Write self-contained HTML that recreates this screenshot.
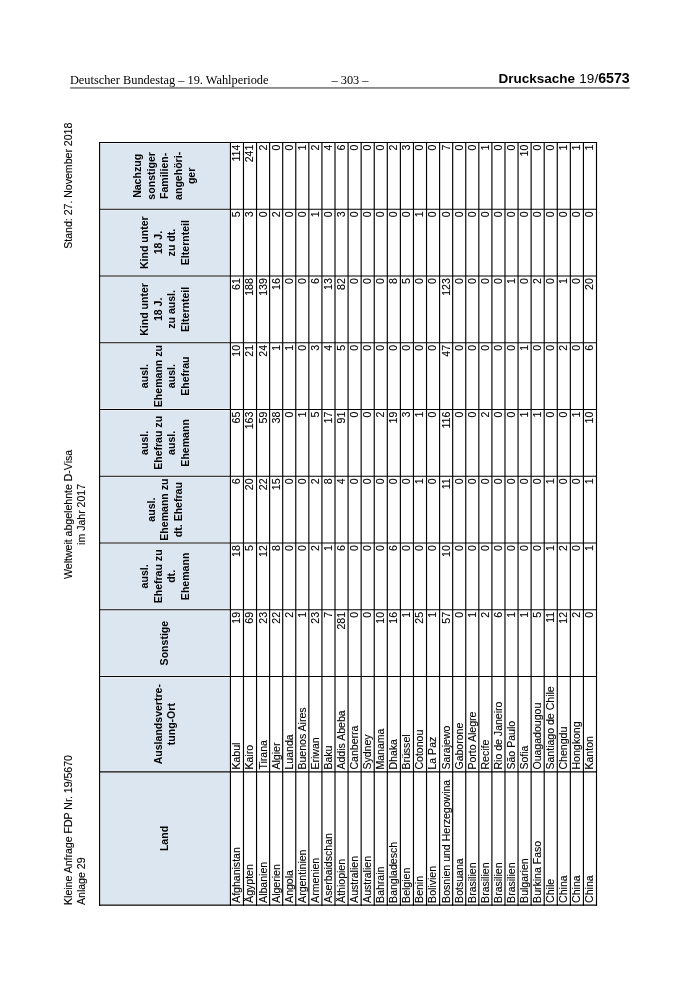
<!DOCTYPE html>
<html lang="de">
<head>
<meta charset="utf-8">
<title>Drucksache 19/6573</title>
<style>
html,body{margin:0;padding:0;background:#fff;}
body{width:700px;height:990px;position:relative;overflow:hidden;will-change:transform;font-family:"Liberation Sans",sans-serif;color:#000;}
.hd{position:absolute;white-space:nowrap;font-family:"Liberation Serif",serif;font-size:12.35px;line-height:14px;color:#000;}
.hdr{position:absolute;white-space:nowrap;font-family:"Liberation Sans",sans-serif;font-size:13.5px;line-height:16px;color:#000;}
.hdr b{font-weight:bold;margin-right:0.6px;}
.hdr .n{font-weight:bold;font-size:14.2px;}
.rule{position:absolute;left:0;top:0;}
.rot{position:absolute;left:0;top:0;width:990px;height:700px;transform-origin:0 0;transform:translate(0,990px) rotate(-90deg);}
.rot svg{position:absolute;left:0;top:0;}
.t{position:absolute;white-space:nowrap;-webkit-text-stroke:0.12px #000;font-size:10.55px;line-height:13.1px;height:13.1px;}
.l{text-align:left;}
.r{text-align:right;}
.c{text-align:center;}
.h{position:absolute;font-weight:bold;text-align:center;font-size:10.55px;line-height:13.45px;white-space:nowrap;}
</style>
</head>
<body>
<div class="hd" style="left:69.9px;top:72.7px;">Deutscher Bundestag – 19. Wahlperiode</div>
<div class="hd" style="left:300px;width:100px;text-align:center;top:72.7px;">– 303 –</div>
<div class="hdr" style="right:70.3px;top:70.2px;"><b>Drucksache</b> 19/<span class="n">6573</span></div>
<svg class="rule" width="700" height="100" viewBox="0 0 700 100"><rect x="70.1" y="87.3" width="559.6" height="1.3" fill="#5a5a5a"/></svg>
<div class="rot">

<svg width="990" height="700" viewBox="0 0 990 700">
<rect x="85.80" y="100.55" width="131.45" height="128.90" fill="#dce6f1"/>
<rect x="219.15" y="100.55" width="93.40" height="128.90" fill="#dce6f1"/>
<rect x="314.45" y="100.55" width="64.85" height="128.90" fill="#dce6f1"/>
<rect x="381.20" y="100.55" width="64.85" height="128.90" fill="#dce6f1"/>
<rect x="447.95" y="100.55" width="64.85" height="128.90" fill="#dce6f1"/>
<rect x="514.70" y="100.55" width="64.85" height="128.90" fill="#dce6f1"/>
<rect x="581.45" y="100.55" width="64.85" height="128.90" fill="#dce6f1"/>
<rect x="648.20" y="100.55" width="64.85" height="128.90" fill="#dce6f1"/>
<rect x="714.95" y="100.55" width="64.85" height="128.90" fill="#dce6f1"/>
<rect x="781.70" y="100.55" width="64.85" height="128.90" fill="#dce6f1"/>
<g stroke="#000" stroke-width="1.15" fill="none">
<line x1="84.85" y1="99.10" x2="84.85" y2="597.00"/>
<line x1="218.20" y1="99.10" x2="218.20" y2="597.00"/>
<line x1="313.50" y1="99.10" x2="313.50" y2="597.00"/>
<line x1="380.25" y1="99.10" x2="380.25" y2="597.00"/>
<line x1="447.00" y1="99.10" x2="447.00" y2="597.00"/>
<line x1="513.75" y1="99.10" x2="513.75" y2="597.00"/>
<line x1="580.50" y1="99.10" x2="580.50" y2="597.00"/>
<line x1="647.25" y1="99.10" x2="647.25" y2="597.00"/>
<line x1="714.00" y1="99.10" x2="714.00" y2="597.00"/>
<line x1="780.75" y1="99.10" x2="780.75" y2="597.00"/>
<line x1="847.50" y1="99.10" x2="847.50" y2="597.00"/>
<line x1="84.35" y1="99.60" x2="848.00" y2="99.60"/>
<line x1="84.35" y1="230.40" x2="848.00" y2="230.40"/>
<line x1="84.35" y1="243.47" x2="848.00" y2="243.47"/>
<line x1="84.35" y1="256.55" x2="848.00" y2="256.55"/>
<line x1="84.35" y1="269.62" x2="848.00" y2="269.62"/>
<line x1="84.35" y1="282.70" x2="848.00" y2="282.70"/>
<line x1="84.35" y1="295.77" x2="848.00" y2="295.77"/>
<line x1="84.35" y1="308.85" x2="848.00" y2="308.85"/>
<line x1="84.35" y1="321.93" x2="848.00" y2="321.93"/>
<line x1="84.35" y1="335.00" x2="848.00" y2="335.00"/>
<line x1="84.35" y1="348.08" x2="848.00" y2="348.08"/>
<line x1="84.35" y1="361.15" x2="848.00" y2="361.15"/>
<line x1="84.35" y1="374.23" x2="848.00" y2="374.23"/>
<line x1="84.35" y1="387.30" x2="848.00" y2="387.30"/>
<line x1="84.35" y1="400.38" x2="848.00" y2="400.38"/>
<line x1="84.35" y1="413.45" x2="848.00" y2="413.45"/>
<line x1="84.35" y1="426.53" x2="848.00" y2="426.53"/>
<line x1="84.35" y1="439.60" x2="848.00" y2="439.60"/>
<line x1="84.35" y1="452.68" x2="848.00" y2="452.68"/>
<line x1="84.35" y1="465.75" x2="848.00" y2="465.75"/>
<line x1="84.35" y1="478.83" x2="848.00" y2="478.83"/>
<line x1="84.35" y1="491.90" x2="848.00" y2="491.90"/>
<line x1="84.35" y1="504.98" x2="848.00" y2="504.98"/>
<line x1="84.35" y1="518.05" x2="848.00" y2="518.05"/>
<line x1="84.35" y1="531.12" x2="848.00" y2="531.12"/>
<line x1="84.35" y1="544.20" x2="848.00" y2="544.20"/>
<line x1="84.35" y1="557.27" x2="848.00" y2="557.27"/>
<line x1="84.35" y1="570.35" x2="848.00" y2="570.35"/>
<line x1="84.35" y1="583.43" x2="848.00" y2="583.43"/>
<line x1="84.35" y1="596.50" x2="848.00" y2="596.50"/>
</g></svg>
<div class="t l" style="font-size:10.55px;left:85.00px;width:782.30px;top:62.39px;">Kleine Anfrage FDP Nr. 19/5670</div>
<div class="t l" style="font-size:10.55px;left:85.00px;width:782.30px;top:74.54px;">Anlage 29</div>
<div class="t c" style="font-size:10.55px;left:85.00px;width:781.20px;top:62.39px;">Weltweit abgelehnte D-Visa</div>
<div class="t c" style="font-size:10.55px;left:85.00px;width:781.20px;top:74.54px;">im Jahr 2017</div>
<div class="t r" style="font-size:10.55px;left:85.00px;width:782.30px;top:62.39px;">Stand: 27. November 2018</div>
<div class="h" style="left:84.85px;width:133.35px;top:158.38px;">Land</div>
<div class="h" style="left:218.20px;width:95.30px;top:151.65px;">Auslandsvertre-<br>tung-Ort</div>
<div class="h" style="left:313.50px;width:66.75px;top:158.38px;">Sonstige</div>
<div class="h" style="left:380.25px;width:66.75px;top:138.20px;">ausl.<br>Ehefrau zu<br>dt.<br>Ehemann</div>
<div class="h" style="left:447.00px;width:66.75px;top:144.93px;">ausl.<br>Ehemann zu<br>dt. Ehefrau</div>
<div class="h" style="left:513.75px;width:66.75px;top:138.20px;">ausl.<br>Ehefrau zu<br>ausl.<br>Ehemann</div>
<div class="h" style="left:580.50px;width:66.75px;top:138.20px;">ausl.<br>Ehemann zu<br>ausl.<br>Ehefrau</div>
<div class="h" style="left:647.25px;width:66.75px;top:138.20px;">Kind unter<br>18 J.<br>zu ausl.<br>Elternteil</div>
<div class="h" style="left:714.00px;width:66.75px;top:138.20px;">Kind unter<br>18 J.<br>zu dt.<br>Elternteil</div>
<div class="h" style="left:780.75px;width:66.75px;top:131.47px;">Nachzug<br>sonstiger<br>Familien-<br>angehöri-<br>ger</div>
<div class="t l" style="left:87.10px;top:230.37px;">Afghanistan</div>
<div class="t l" style="left:220.45px;top:230.37px;">Kabul</div>
<div class="t r" style="left:313.50px;width:64.60px;top:230.37px;">19</div>
<div class="t r" style="left:380.25px;width:64.60px;top:230.37px;">18</div>
<div class="t r" style="left:447.00px;width:64.60px;top:230.37px;">6</div>
<div class="t r" style="left:513.75px;width:64.60px;top:230.37px;">65</div>
<div class="t r" style="left:580.50px;width:64.60px;top:230.37px;">10</div>
<div class="t r" style="left:647.25px;width:64.60px;top:230.37px;">61</div>
<div class="t r" style="left:714.00px;width:64.60px;top:230.37px;">5</div>
<div class="t r" style="left:780.75px;width:64.60px;top:230.37px;">114</div>
<div class="t l" style="left:87.10px;top:243.44px;">Ägypten</div>
<div class="t l" style="left:220.45px;top:243.44px;">Kairo</div>
<div class="t r" style="left:313.50px;width:64.60px;top:243.44px;">69</div>
<div class="t r" style="left:380.25px;width:64.60px;top:243.44px;">5</div>
<div class="t r" style="left:447.00px;width:64.60px;top:243.44px;">20</div>
<div class="t r" style="left:513.75px;width:64.60px;top:243.44px;">163</div>
<div class="t r" style="left:580.50px;width:64.60px;top:243.44px;">21</div>
<div class="t r" style="left:647.25px;width:64.60px;top:243.44px;">188</div>
<div class="t r" style="left:714.00px;width:64.60px;top:243.44px;">3</div>
<div class="t r" style="left:780.75px;width:64.60px;top:243.44px;">241</div>
<div class="t l" style="left:87.10px;top:256.52px;">Albanien</div>
<div class="t l" style="left:220.45px;top:256.52px;">Tirana</div>
<div class="t r" style="left:313.50px;width:64.60px;top:256.52px;">23</div>
<div class="t r" style="left:380.25px;width:64.60px;top:256.52px;">12</div>
<div class="t r" style="left:447.00px;width:64.60px;top:256.52px;">22</div>
<div class="t r" style="left:513.75px;width:64.60px;top:256.52px;">59</div>
<div class="t r" style="left:580.50px;width:64.60px;top:256.52px;">24</div>
<div class="t r" style="left:647.25px;width:64.60px;top:256.52px;">139</div>
<div class="t r" style="left:714.00px;width:64.60px;top:256.52px;">0</div>
<div class="t r" style="left:780.75px;width:64.60px;top:256.52px;">2</div>
<div class="t l" style="left:87.10px;top:269.59px;">Algerien</div>
<div class="t l" style="left:220.45px;top:269.59px;">Algier</div>
<div class="t r" style="left:313.50px;width:64.60px;top:269.59px;">22</div>
<div class="t r" style="left:380.25px;width:64.60px;top:269.59px;">8</div>
<div class="t r" style="left:447.00px;width:64.60px;top:269.59px;">15</div>
<div class="t r" style="left:513.75px;width:64.60px;top:269.59px;">38</div>
<div class="t r" style="left:580.50px;width:64.60px;top:269.59px;">1</div>
<div class="t r" style="left:647.25px;width:64.60px;top:269.59px;">16</div>
<div class="t r" style="left:714.00px;width:64.60px;top:269.59px;">2</div>
<div class="t r" style="left:780.75px;width:64.60px;top:269.59px;">0</div>
<div class="t l" style="left:87.10px;top:282.67px;">Angola</div>
<div class="t l" style="left:220.45px;top:282.67px;">Luanda</div>
<div class="t r" style="left:313.50px;width:64.60px;top:282.67px;">2</div>
<div class="t r" style="left:380.25px;width:64.60px;top:282.67px;">0</div>
<div class="t r" style="left:447.00px;width:64.60px;top:282.67px;">0</div>
<div class="t r" style="left:513.75px;width:64.60px;top:282.67px;">0</div>
<div class="t r" style="left:580.50px;width:64.60px;top:282.67px;">1</div>
<div class="t r" style="left:647.25px;width:64.60px;top:282.67px;">0</div>
<div class="t r" style="left:714.00px;width:64.60px;top:282.67px;">0</div>
<div class="t r" style="left:780.75px;width:64.60px;top:282.67px;">0</div>
<div class="t l" style="left:87.10px;top:295.74px;">Argentinien</div>
<div class="t l" style="left:220.45px;top:295.74px;">Buenos Aires</div>
<div class="t r" style="left:313.50px;width:64.60px;top:295.74px;">1</div>
<div class="t r" style="left:380.25px;width:64.60px;top:295.74px;">0</div>
<div class="t r" style="left:447.00px;width:64.60px;top:295.74px;">0</div>
<div class="t r" style="left:513.75px;width:64.60px;top:295.74px;">1</div>
<div class="t r" style="left:580.50px;width:64.60px;top:295.74px;">0</div>
<div class="t r" style="left:647.25px;width:64.60px;top:295.74px;">0</div>
<div class="t r" style="left:714.00px;width:64.60px;top:295.74px;">0</div>
<div class="t r" style="left:780.75px;width:64.60px;top:295.74px;">1</div>
<div class="t l" style="left:87.10px;top:308.82px;">Armenien</div>
<div class="t l" style="left:220.45px;top:308.82px;">Eriwan</div>
<div class="t r" style="left:313.50px;width:64.60px;top:308.82px;">23</div>
<div class="t r" style="left:380.25px;width:64.60px;top:308.82px;">2</div>
<div class="t r" style="left:447.00px;width:64.60px;top:308.82px;">2</div>
<div class="t r" style="left:513.75px;width:64.60px;top:308.82px;">5</div>
<div class="t r" style="left:580.50px;width:64.60px;top:308.82px;">3</div>
<div class="t r" style="left:647.25px;width:64.60px;top:308.82px;">6</div>
<div class="t r" style="left:714.00px;width:64.60px;top:308.82px;">1</div>
<div class="t r" style="left:780.75px;width:64.60px;top:308.82px;">2</div>
<div class="t l" style="left:87.10px;top:321.89px;">Aserbaidschan</div>
<div class="t l" style="left:220.45px;top:321.89px;">Baku</div>
<div class="t r" style="left:313.50px;width:64.60px;top:321.89px;">7</div>
<div class="t r" style="left:380.25px;width:64.60px;top:321.89px;">1</div>
<div class="t r" style="left:447.00px;width:64.60px;top:321.89px;">8</div>
<div class="t r" style="left:513.75px;width:64.60px;top:321.89px;">17</div>
<div class="t r" style="left:580.50px;width:64.60px;top:321.89px;">4</div>
<div class="t r" style="left:647.25px;width:64.60px;top:321.89px;">13</div>
<div class="t r" style="left:714.00px;width:64.60px;top:321.89px;">0</div>
<div class="t r" style="left:780.75px;width:64.60px;top:321.89px;">4</div>
<div class="t l" style="left:87.10px;top:334.97px;">Äthiopien</div>
<div class="t l" style="left:220.45px;top:334.97px;">Addis Abeba</div>
<div class="t r" style="left:313.50px;width:64.60px;top:334.97px;">281</div>
<div class="t r" style="left:380.25px;width:64.60px;top:334.97px;">6</div>
<div class="t r" style="left:447.00px;width:64.60px;top:334.97px;">4</div>
<div class="t r" style="left:513.75px;width:64.60px;top:334.97px;">91</div>
<div class="t r" style="left:580.50px;width:64.60px;top:334.97px;">5</div>
<div class="t r" style="left:647.25px;width:64.60px;top:334.97px;">82</div>
<div class="t r" style="left:714.00px;width:64.60px;top:334.97px;">3</div>
<div class="t r" style="left:780.75px;width:64.60px;top:334.97px;">6</div>
<div class="t l" style="left:87.10px;top:348.04px;">Australien</div>
<div class="t l" style="left:220.45px;top:348.04px;">Canberra</div>
<div class="t r" style="left:313.50px;width:64.60px;top:348.04px;">0</div>
<div class="t r" style="left:380.25px;width:64.60px;top:348.04px;">0</div>
<div class="t r" style="left:447.00px;width:64.60px;top:348.04px;">0</div>
<div class="t r" style="left:513.75px;width:64.60px;top:348.04px;">0</div>
<div class="t r" style="left:580.50px;width:64.60px;top:348.04px;">0</div>
<div class="t r" style="left:647.25px;width:64.60px;top:348.04px;">0</div>
<div class="t r" style="left:714.00px;width:64.60px;top:348.04px;">0</div>
<div class="t r" style="left:780.75px;width:64.60px;top:348.04px;">0</div>
<div class="t l" style="left:87.10px;top:361.12px;">Australien</div>
<div class="t l" style="left:220.45px;top:361.12px;">Sydney</div>
<div class="t r" style="left:313.50px;width:64.60px;top:361.12px;">0</div>
<div class="t r" style="left:380.25px;width:64.60px;top:361.12px;">0</div>
<div class="t r" style="left:447.00px;width:64.60px;top:361.12px;">0</div>
<div class="t r" style="left:513.75px;width:64.60px;top:361.12px;">0</div>
<div class="t r" style="left:580.50px;width:64.60px;top:361.12px;">0</div>
<div class="t r" style="left:647.25px;width:64.60px;top:361.12px;">0</div>
<div class="t r" style="left:714.00px;width:64.60px;top:361.12px;">0</div>
<div class="t r" style="left:780.75px;width:64.60px;top:361.12px;">0</div>
<div class="t l" style="left:87.10px;top:374.19px;">Bahrain</div>
<div class="t l" style="left:220.45px;top:374.19px;">Manama</div>
<div class="t r" style="left:313.50px;width:64.60px;top:374.19px;">10</div>
<div class="t r" style="left:380.25px;width:64.60px;top:374.19px;">0</div>
<div class="t r" style="left:447.00px;width:64.60px;top:374.19px;">0</div>
<div class="t r" style="left:513.75px;width:64.60px;top:374.19px;">2</div>
<div class="t r" style="left:580.50px;width:64.60px;top:374.19px;">0</div>
<div class="t r" style="left:647.25px;width:64.60px;top:374.19px;">0</div>
<div class="t r" style="left:714.00px;width:64.60px;top:374.19px;">0</div>
<div class="t r" style="left:780.75px;width:64.60px;top:374.19px;">0</div>
<div class="t l" style="left:87.10px;top:387.27px;">Bangladesch</div>
<div class="t l" style="left:220.45px;top:387.27px;">Dhaka</div>
<div class="t r" style="left:313.50px;width:64.60px;top:387.27px;">16</div>
<div class="t r" style="left:380.25px;width:64.60px;top:387.27px;">6</div>
<div class="t r" style="left:447.00px;width:64.60px;top:387.27px;">0</div>
<div class="t r" style="left:513.75px;width:64.60px;top:387.27px;">19</div>
<div class="t r" style="left:580.50px;width:64.60px;top:387.27px;">0</div>
<div class="t r" style="left:647.25px;width:64.60px;top:387.27px;">8</div>
<div class="t r" style="left:714.00px;width:64.60px;top:387.27px;">0</div>
<div class="t r" style="left:780.75px;width:64.60px;top:387.27px;">2</div>
<div class="t l" style="left:87.10px;top:400.34px;">Belgien</div>
<div class="t l" style="left:220.45px;top:400.34px;">Brüssel</div>
<div class="t r" style="left:313.50px;width:64.60px;top:400.34px;">1</div>
<div class="t r" style="left:380.25px;width:64.60px;top:400.34px;">0</div>
<div class="t r" style="left:447.00px;width:64.60px;top:400.34px;">0</div>
<div class="t r" style="left:513.75px;width:64.60px;top:400.34px;">3</div>
<div class="t r" style="left:580.50px;width:64.60px;top:400.34px;">0</div>
<div class="t r" style="left:647.25px;width:64.60px;top:400.34px;">5</div>
<div class="t r" style="left:714.00px;width:64.60px;top:400.34px;">0</div>
<div class="t r" style="left:780.75px;width:64.60px;top:400.34px;">3</div>
<div class="t l" style="left:87.10px;top:413.42px;">Benin</div>
<div class="t l" style="left:220.45px;top:413.42px;">Cotonou</div>
<div class="t r" style="left:313.50px;width:64.60px;top:413.42px;">25</div>
<div class="t r" style="left:380.25px;width:64.60px;top:413.42px;">0</div>
<div class="t r" style="left:447.00px;width:64.60px;top:413.42px;">1</div>
<div class="t r" style="left:513.75px;width:64.60px;top:413.42px;">1</div>
<div class="t r" style="left:580.50px;width:64.60px;top:413.42px;">0</div>
<div class="t r" style="left:647.25px;width:64.60px;top:413.42px;">0</div>
<div class="t r" style="left:714.00px;width:64.60px;top:413.42px;">1</div>
<div class="t r" style="left:780.75px;width:64.60px;top:413.42px;">0</div>
<div class="t l" style="left:87.10px;top:426.49px;">Bolivien</div>
<div class="t l" style="left:220.45px;top:426.49px;">La Paz</div>
<div class="t r" style="left:313.50px;width:64.60px;top:426.49px;">1</div>
<div class="t r" style="left:380.25px;width:64.60px;top:426.49px;">0</div>
<div class="t r" style="left:447.00px;width:64.60px;top:426.49px;">0</div>
<div class="t r" style="left:513.75px;width:64.60px;top:426.49px;">0</div>
<div class="t r" style="left:580.50px;width:64.60px;top:426.49px;">0</div>
<div class="t r" style="left:647.25px;width:64.60px;top:426.49px;">0</div>
<div class="t r" style="left:714.00px;width:64.60px;top:426.49px;">0</div>
<div class="t r" style="left:780.75px;width:64.60px;top:426.49px;">0</div>
<div class="t l" style="left:87.10px;top:439.57px;">Bosnien und Herzegowina</div>
<div class="t l" style="left:220.45px;top:439.57px;">Sarajewo</div>
<div class="t r" style="left:313.50px;width:64.60px;top:439.57px;">57</div>
<div class="t r" style="left:380.25px;width:64.60px;top:439.57px;">10</div>
<div class="t r" style="left:447.00px;width:64.60px;top:439.57px;">11</div>
<div class="t r" style="left:513.75px;width:64.60px;top:439.57px;">116</div>
<div class="t r" style="left:580.50px;width:64.60px;top:439.57px;">47</div>
<div class="t r" style="left:647.25px;width:64.60px;top:439.57px;">123</div>
<div class="t r" style="left:714.00px;width:64.60px;top:439.57px;">0</div>
<div class="t r" style="left:780.75px;width:64.60px;top:439.57px;">7</div>
<div class="t l" style="left:87.10px;top:452.64px;">Botsuana</div>
<div class="t l" style="left:220.45px;top:452.64px;">Gaborone</div>
<div class="t r" style="left:313.50px;width:64.60px;top:452.64px;">0</div>
<div class="t r" style="left:380.25px;width:64.60px;top:452.64px;">0</div>
<div class="t r" style="left:447.00px;width:64.60px;top:452.64px;">0</div>
<div class="t r" style="left:513.75px;width:64.60px;top:452.64px;">0</div>
<div class="t r" style="left:580.50px;width:64.60px;top:452.64px;">0</div>
<div class="t r" style="left:647.25px;width:64.60px;top:452.64px;">0</div>
<div class="t r" style="left:714.00px;width:64.60px;top:452.64px;">0</div>
<div class="t r" style="left:780.75px;width:64.60px;top:452.64px;">0</div>
<div class="t l" style="left:87.10px;top:465.72px;">Brasilien</div>
<div class="t l" style="left:220.45px;top:465.72px;">Porto Alegre</div>
<div class="t r" style="left:313.50px;width:64.60px;top:465.72px;">1</div>
<div class="t r" style="left:380.25px;width:64.60px;top:465.72px;">0</div>
<div class="t r" style="left:447.00px;width:64.60px;top:465.72px;">0</div>
<div class="t r" style="left:513.75px;width:64.60px;top:465.72px;">0</div>
<div class="t r" style="left:580.50px;width:64.60px;top:465.72px;">0</div>
<div class="t r" style="left:647.25px;width:64.60px;top:465.72px;">0</div>
<div class="t r" style="left:714.00px;width:64.60px;top:465.72px;">0</div>
<div class="t r" style="left:780.75px;width:64.60px;top:465.72px;">0</div>
<div class="t l" style="left:87.10px;top:478.79px;">Brasilien</div>
<div class="t l" style="left:220.45px;top:478.79px;">Recife</div>
<div class="t r" style="left:313.50px;width:64.60px;top:478.79px;">2</div>
<div class="t r" style="left:380.25px;width:64.60px;top:478.79px;">0</div>
<div class="t r" style="left:447.00px;width:64.60px;top:478.79px;">0</div>
<div class="t r" style="left:513.75px;width:64.60px;top:478.79px;">2</div>
<div class="t r" style="left:580.50px;width:64.60px;top:478.79px;">0</div>
<div class="t r" style="left:647.25px;width:64.60px;top:478.79px;">0</div>
<div class="t r" style="left:714.00px;width:64.60px;top:478.79px;">0</div>
<div class="t r" style="left:780.75px;width:64.60px;top:478.79px;">1</div>
<div class="t l" style="left:87.10px;top:491.87px;">Brasilien</div>
<div class="t l" style="left:220.45px;top:491.87px;">Rio de Janeiro</div>
<div class="t r" style="left:313.50px;width:64.60px;top:491.87px;">6</div>
<div class="t r" style="left:380.25px;width:64.60px;top:491.87px;">0</div>
<div class="t r" style="left:447.00px;width:64.60px;top:491.87px;">0</div>
<div class="t r" style="left:513.75px;width:64.60px;top:491.87px;">0</div>
<div class="t r" style="left:580.50px;width:64.60px;top:491.87px;">0</div>
<div class="t r" style="left:647.25px;width:64.60px;top:491.87px;">0</div>
<div class="t r" style="left:714.00px;width:64.60px;top:491.87px;">0</div>
<div class="t r" style="left:780.75px;width:64.60px;top:491.87px;">0</div>
<div class="t l" style="left:87.10px;top:504.94px;">Brasilien</div>
<div class="t l" style="left:220.45px;top:504.94px;">São Paulo</div>
<div class="t r" style="left:313.50px;width:64.60px;top:504.94px;">1</div>
<div class="t r" style="left:380.25px;width:64.60px;top:504.94px;">0</div>
<div class="t r" style="left:447.00px;width:64.60px;top:504.94px;">0</div>
<div class="t r" style="left:513.75px;width:64.60px;top:504.94px;">0</div>
<div class="t r" style="left:580.50px;width:64.60px;top:504.94px;">0</div>
<div class="t r" style="left:647.25px;width:64.60px;top:504.94px;">1</div>
<div class="t r" style="left:714.00px;width:64.60px;top:504.94px;">0</div>
<div class="t r" style="left:780.75px;width:64.60px;top:504.94px;">0</div>
<div class="t l" style="left:87.10px;top:518.02px;">Bulgarien</div>
<div class="t l" style="left:220.45px;top:518.02px;">Sofia</div>
<div class="t r" style="left:313.50px;width:64.60px;top:518.02px;">1</div>
<div class="t r" style="left:380.25px;width:64.60px;top:518.02px;">0</div>
<div class="t r" style="left:447.00px;width:64.60px;top:518.02px;">0</div>
<div class="t r" style="left:513.75px;width:64.60px;top:518.02px;">1</div>
<div class="t r" style="left:580.50px;width:64.60px;top:518.02px;">1</div>
<div class="t r" style="left:647.25px;width:64.60px;top:518.02px;">0</div>
<div class="t r" style="left:714.00px;width:64.60px;top:518.02px;">0</div>
<div class="t r" style="left:780.75px;width:64.60px;top:518.02px;">10</div>
<div class="t l" style="left:87.10px;top:531.09px;">Burkina Faso</div>
<div class="t l" style="left:220.45px;top:531.09px;">Ouagadougou</div>
<div class="t r" style="left:313.50px;width:64.60px;top:531.09px;">5</div>
<div class="t r" style="left:380.25px;width:64.60px;top:531.09px;">0</div>
<div class="t r" style="left:447.00px;width:64.60px;top:531.09px;">0</div>
<div class="t r" style="left:513.75px;width:64.60px;top:531.09px;">1</div>
<div class="t r" style="left:580.50px;width:64.60px;top:531.09px;">0</div>
<div class="t r" style="left:647.25px;width:64.60px;top:531.09px;">2</div>
<div class="t r" style="left:714.00px;width:64.60px;top:531.09px;">0</div>
<div class="t r" style="left:780.75px;width:64.60px;top:531.09px;">0</div>
<div class="t l" style="left:87.10px;top:544.17px;">Chile</div>
<div class="t l" style="left:220.45px;top:544.17px;">Santiago de Chile</div>
<div class="t r" style="left:313.50px;width:64.60px;top:544.17px;">11</div>
<div class="t r" style="left:380.25px;width:64.60px;top:544.17px;">1</div>
<div class="t r" style="left:447.00px;width:64.60px;top:544.17px;">1</div>
<div class="t r" style="left:513.75px;width:64.60px;top:544.17px;">0</div>
<div class="t r" style="left:580.50px;width:64.60px;top:544.17px;">0</div>
<div class="t r" style="left:647.25px;width:64.60px;top:544.17px;">0</div>
<div class="t r" style="left:714.00px;width:64.60px;top:544.17px;">0</div>
<div class="t r" style="left:780.75px;width:64.60px;top:544.17px;">0</div>
<div class="t l" style="left:87.10px;top:557.24px;">China</div>
<div class="t l" style="left:220.45px;top:557.24px;">Chengdu</div>
<div class="t r" style="left:313.50px;width:64.60px;top:557.24px;">12</div>
<div class="t r" style="left:380.25px;width:64.60px;top:557.24px;">2</div>
<div class="t r" style="left:447.00px;width:64.60px;top:557.24px;">0</div>
<div class="t r" style="left:513.75px;width:64.60px;top:557.24px;">0</div>
<div class="t r" style="left:580.50px;width:64.60px;top:557.24px;">2</div>
<div class="t r" style="left:647.25px;width:64.60px;top:557.24px;">1</div>
<div class="t r" style="left:714.00px;width:64.60px;top:557.24px;">0</div>
<div class="t r" style="left:780.75px;width:64.60px;top:557.24px;">1</div>
<div class="t l" style="left:87.10px;top:570.32px;">China</div>
<div class="t l" style="left:220.45px;top:570.32px;">Hongkong</div>
<div class="t r" style="left:313.50px;width:64.60px;top:570.32px;">2</div>
<div class="t r" style="left:380.25px;width:64.60px;top:570.32px;">0</div>
<div class="t r" style="left:447.00px;width:64.60px;top:570.32px;">0</div>
<div class="t r" style="left:513.75px;width:64.60px;top:570.32px;">1</div>
<div class="t r" style="left:580.50px;width:64.60px;top:570.32px;">0</div>
<div class="t r" style="left:647.25px;width:64.60px;top:570.32px;">0</div>
<div class="t r" style="left:714.00px;width:64.60px;top:570.32px;">0</div>
<div class="t r" style="left:780.75px;width:64.60px;top:570.32px;">1</div>
<div class="t l" style="left:87.10px;top:583.39px;">China</div>
<div class="t l" style="left:220.45px;top:583.39px;">Kanton</div>
<div class="t r" style="left:313.50px;width:64.60px;top:583.39px;">0</div>
<div class="t r" style="left:380.25px;width:64.60px;top:583.39px;">1</div>
<div class="t r" style="left:447.00px;width:64.60px;top:583.39px;">1</div>
<div class="t r" style="left:513.75px;width:64.60px;top:583.39px;">10</div>
<div class="t r" style="left:580.50px;width:64.60px;top:583.39px;">6</div>
<div class="t r" style="left:647.25px;width:64.60px;top:583.39px;">20</div>
<div class="t r" style="left:714.00px;width:64.60px;top:583.39px;">0</div>
<div class="t r" style="left:780.75px;width:64.60px;top:583.39px;">1</div>
</div>
</body>
</html>
